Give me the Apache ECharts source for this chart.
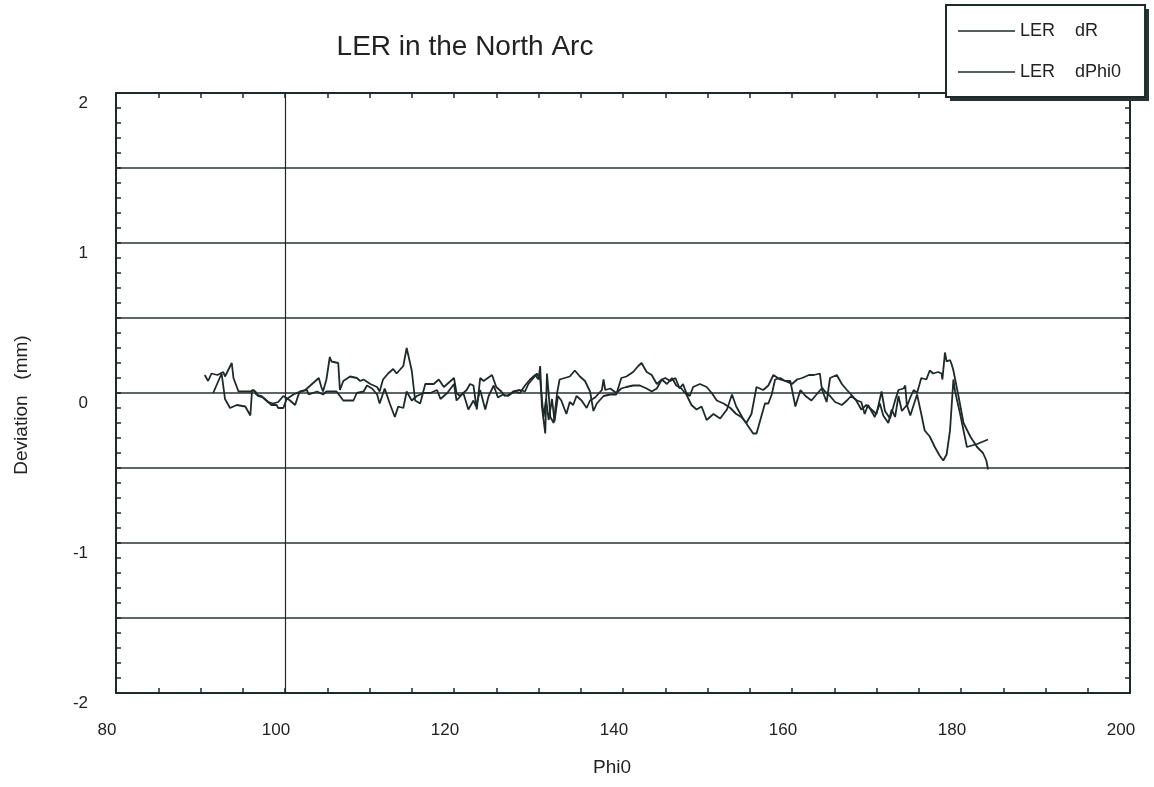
<!DOCTYPE html>
<html>
<head>
<meta charset="utf-8">
<script src="https://cdn.jsdelivr.net/npm/echarts@6/dist/echarts.min.js"></script>
<style>
html,body{margin:0;padding:0;background:#fff;}
#chart{width:1154px;height:787px;}
</style>
</head>
<body>
<div id="chart"></div>
<script>
// ---- Data ----
const chartTitle = 'LER in the North Arc';
const xAxisTitle = 'Phi0';
const yAxisTitle = 'Deviation   (mm)';
const seriesNames = ['LER    dR', 'LER    dPhi0'];
const xTickLabels = ['80', '100', '120', '140', '160', '180', '200'];
const yTickLabels = ['-2', '-1', '0', '1', '2'];

const dRPhi = [90.5,90.9,91.3,92.0,92.7,92.9,93.7,93.9,94.5,95.2,95.9,96.3,96.6,97.2,97.8,98.4,99.0,99.2,99.8,100.2,101.0,101.4,101.8,102.4,103.0,103.6,104.0,104.3,104.5,104.9,105.3,105.5,106.3,106.5,106.9,107.7,108.5,108.9,109.3,110.1,110.9,111.2,111.6,112.2,112.8,113.2,114.0,114.4,115.0,115.4,116.0,116.6,117.6,118.2,118.8,119.2,120.0,120.3,120.7,121.5,121.9,122.3,122.7,123.1,123.5,124.5,125.0,125.6,126.0,126.6,127.2,127.8,128.4,129.0,129.6,130.0,130.2,130.4,130.8,131.0,131.2,131.4,131.8,132.2,132.5,133.1,133.7,134.3,134.9,135.5,136.1,136.5,136.9,137.7,138.5,139.2,139.8,140.4,141.2,141.8,142.2,142.8,143.4,144.0,144.6,145.2,145.8,146.3,146.9,147.5,148.1,148.7,149.3,149.9,150.7,151.5,152.3,152.9,153.4,154.2,154.8,155.4,155.8,156.6,156.8,157.2,157.6,158.0,158.6,159.2,160.0,160.6,161.2,162.0,162.6,163.3,163.5,163.9,164.5,165.1,165.9,166.5,167.0,167.7,168.2,168.6,169.0,169.8,170.4,170.8,171.4,171.8,172.2,172.6,173.0,173.6,174.0,174.4,174.8,175.3,175.7,176.3,176.9,177.5,177.9,178.3,178.7,179.1,179.3,179.9,180.7,181.9,183.2];
const dRDev = [0.12,0.08,0.13,0.12,0.14,0.11,0.20,0.10,0.01,0.01,0.01,0.02,-0.01,-0.02,-0.05,-0.08,-0.08,-0.10,-0.10,-0.04,-0.01,0.00,0.01,0.02,0.05,0.08,0.10,0.04,0.01,0.09,0.24,0.21,0.20,0.02,0.08,0.11,0.10,0.08,0.09,0.06,0.04,0.01,0.09,0.13,0.16,0.13,0.18,0.30,0.15,-0.05,-0.07,0.06,0.06,0.09,0.04,0.06,0.10,0.00,-0.02,0.02,0.06,0.05,-0.11,0.10,0.08,0.12,0.04,0.01,-0.02,-0.01,0.01,0.00,0.05,0.09,0.12,0.09,0.18,-0.09,-0.27,0.13,0.00,-0.16,-0.20,0.00,0.09,0.10,0.11,0.15,0.11,0.08,0.01,-0.12,-0.07,-0.02,-0.01,-0.01,0.10,0.11,0.14,0.18,0.20,0.14,0.12,0.06,0.09,0.06,0.10,0.05,0.03,-0.01,-0.08,-0.11,-0.09,-0.18,-0.14,-0.17,-0.11,-0.01,-0.09,-0.17,-0.22,-0.27,-0.27,-0.11,-0.07,-0.07,-0.01,0.09,0.10,0.08,0.06,0.09,0.10,0.12,0.12,0.13,0.04,0.01,-0.02,-0.06,-0.08,-0.05,-0.02,-0.05,-0.06,-0.14,-0.08,-0.16,-0.07,-0.15,-0.20,-0.11,-0.16,-0.02,-0.12,-0.08,-0.15,-0.08,-0.01,-0.14,-0.25,-0.29,-0.36,-0.42,-0.45,-0.41,-0.25,0.09,0.01,-0.14,-0.36,-0.34,-0.31];

const dPhiPhi = [91.5,92.5,92.9,93.5,94.3,95.3,95.9,96.1,96.5,96.8,97.4,98.0,98.6,99.2,99.8,100.6,101.2,101.6,101.8,102.6,102.8,103.8,104.5,104.9,105.3,106.1,106.9,108.1,108.5,109.3,109.7,110.3,110.9,111.2,111.8,112.4,113.0,113.4,114.0,114.4,115.0,115.6,116.4,117.2,118.0,118.4,119.2,120.0,120.3,121.1,121.7,122.3,122.6,123.1,123.7,124.1,124.7,125.2,125.8,126.4,127.0,127.8,128.4,128.8,129.4,129.8,130.2,130.6,130.9,131.2,131.6,131.9,132.3,132.7,133.3,133.7,134.1,134.5,135.1,135.7,136.1,136.7,137.5,137.7,137.9,138.5,139.2,139.8,140.4,141.2,142.0,142.8,143.4,144.0,144.6,145.0,145.6,146.2,146.7,147.1,147.5,147.9,148.3,149.1,149.9,150.5,151.1,151.9,152.7,153.4,154.0,154.6,155.2,155.8,156.6,157.2,157.8,158.6,159.2,159.8,160.4,161.0,161.6,162.3,162.9,163.5,164.1,164.5,165.3,165.9,166.5,167.0,167.6,168.2,168.8,169.4,170.0,170.6,171.0,171.6,172.2,172.6,173.2,173.4,173.6,174.0,174.4,174.8,175.3,175.9,176.3,176.7,177.3,177.7,177.8,178.1,178.3,178.7,178.9,179.1,179.7,180.3,181.1,181.9,182.6,183.0,183.2];
const dPhiDev = [0.00,0.13,-0.04,-0.10,-0.08,-0.09,-0.15,0.02,0.01,-0.02,-0.03,-0.06,-0.07,-0.06,-0.02,-0.05,-0.08,-0.01,0.01,0.02,-0.01,0.01,-0.01,0.01,0.01,0.01,-0.05,-0.05,0.00,0.01,0.05,0.03,-0.01,-0.07,0.03,-0.07,-0.16,-0.09,-0.10,0.01,-0.05,-0.02,0.00,0.00,0.02,-0.04,0.00,0.06,-0.05,0.00,-0.11,-0.05,-0.09,0.02,-0.11,-0.02,0.05,-0.03,-0.01,-0.02,0.01,0.02,0.01,0.06,0.10,0.13,0.09,-0.16,-0.04,-0.18,-0.04,-0.19,-0.02,-0.05,-0.14,-0.06,-0.08,-0.02,-0.05,-0.10,-0.05,-0.03,0.02,0.09,0.02,0.03,0.00,0.03,0.04,0.05,0.05,0.03,0.01,0.03,0.09,0.10,0.08,0.10,0.03,0.06,0.00,-0.02,0.04,0.06,0.04,0.00,-0.05,-0.07,-0.10,-0.14,-0.16,-0.20,-0.14,0.04,0.02,0.05,0.12,0.09,0.08,0.08,-0.09,0.02,-0.02,-0.05,-0.01,0.03,-0.06,0.10,0.12,0.06,0.02,-0.01,-0.05,-0.11,-0.08,-0.11,-0.14,0.01,-0.12,-0.17,-0.05,0.02,0.03,0.05,-0.09,-0.03,0.02,0.00,0.10,0.09,0.15,0.13,0.14,0.13,0.09,0.27,0.21,0.22,0.19,0.15,-0.02,-0.20,-0.29,-0.36,-0.40,-0.45,-0.51];

const gridX = [100]; // the single vertical grid line of the original

// ---- Chart ----
const ink = '#1e2a2a';
const font = '"Liberation Sans", Arial, Helvetica, sans-serif';
const zip = (a, b) => a.map((v, i) => [v, b[i]]);

const chart = echarts.init(document.getElementById('chart'), null, {renderer: 'canvas'});

const baseX = {
  type: 'value', min: 80, max: 200, interval: 20,
  axisLine: {show: true, onZero: false, lineStyle: {color: ink, width: 2}},
  axisTick: {show: true, inside: true, length: 5, lineStyle: {color: ink, width: 1.5}},
  minorTick: {show: true, splitNumber: 4, length: 5, lineStyle: {color: ink, width: 1.5}},
  splitLine: {show: false}
};
const baseY = {
  type: 'value', min: -2, max: 2, interval: 0.5,
  axisLine: {show: true, onZero: false, lineStyle: {color: ink, width: 2}},
  axisTick: {show: true, inside: true, length: 5, lineStyle: {color: ink, width: 1.5}},
  minorTick: {show: true, splitNumber: 5, length: 5, lineStyle: {color: ink, width: 1.5}},
  splitLine: {show: false}
};

// legend box geometry (style only)
const lgLeft = 946, lgTop = 5, lgW = 199, lgH = 92;

const option = {
  backgroundColor: '#fff',
  animation: false,
  grid: {left: 116, right: 24, top: 93, bottom: 94, show: false},
  xAxis: [
    Object.assign({}, baseX, {
      position: 'bottom',
      axisLabel: {
        show: true, margin: 29, fontSize: 17, color: '#222', fontFamily: font,
        padding: [0, 18, 0, 0],
        formatter: v => xTickLabels.includes(String(v)) ? String(v) : ''
      }
    }),
    Object.assign({}, baseX, {position: 'top', axisLabel: {show: false}})
  ],
  yAxis: [
    Object.assign({}, baseY, {
      position: 'left',
      splitLine: {show: true, lineStyle: {color: '#2a3333', width: 1.5}},
      axisLabel: {
        show: true, margin: 28, fontSize: 17, color: '#222', fontFamily: font,
        verticalAlign: 'top', padding: [2, 0, 0, 0],
        formatter: v => yTickLabels.includes(String(v)) ? String(v) : ''
      }
    }),
    Object.assign({}, baseY, {position: 'right', axisLabel: {show: false}})
  ],
  legend: {
    orient: 'vertical',
    left: lgLeft, top: lgTop,
    padding: [16, 24, 15, 12],
    icon: 'rect',
    itemWidth: 57, itemHeight: 1.6, itemGap: 21,
    backgroundColor: '#fff',
    borderColor: ink, borderWidth: 2,
    z: 10,
    textStyle: {fontSize: 18, lineHeight: 20, color: '#222', fontFamily: font},
    data: seriesNames
  },
  graphic: [
    {type: 'rect', z: 1, shape: {x: lgLeft + 4, y: lgTop + 4, width: lgW, height: lgH}, style: {fill: '#2a3333'}},
    {type: 'text', x: 465, y: 47, style: {text: chartTitle, fontSize: 28, fill: '#222', fontFamily: font, align: 'center', verticalAlign: 'middle'}},
    {type: 'text', x: 612, y: 768, style: {text: xAxisTitle, fontSize: 19, fill: '#222', fontFamily: font, align: 'center', verticalAlign: 'middle'}},
    {type: 'text', x: 22, y: 405, rotation: Math.PI / 2, style: {text: yAxisTitle, fontSize: 19, fill: '#222', fontFamily: font, align: 'center', verticalAlign: 'middle'}}
  ],
  series: [
    {
      name: seriesNames[0], type: 'line', xAxisIndex: 0, yAxisIndex: 0,
      symbol: 'none', showSymbol: false,
      lineStyle: {color: ink, width: 1.8}, itemStyle: {color: ink},
      data: zip(dRPhi, dRDev),
      markLine: {
        silent: true, symbol: 'none', label: {show: false},
        lineStyle: {color: ink, width: 1.2, type: 'solid'},
        data: gridX.map(v => ({xAxis: v}))
      }
    },
    {
      name: seriesNames[1], type: 'line', xAxisIndex: 0, yAxisIndex: 0,
      symbol: 'none', showSymbol: false,
      lineStyle: {color: ink, width: 1.8}, itemStyle: {color: ink},
      data: zip(dPhiPhi, dPhiDev)
    }
  ]
};
chart.setOption(option);
</script>
</body>
</html>
